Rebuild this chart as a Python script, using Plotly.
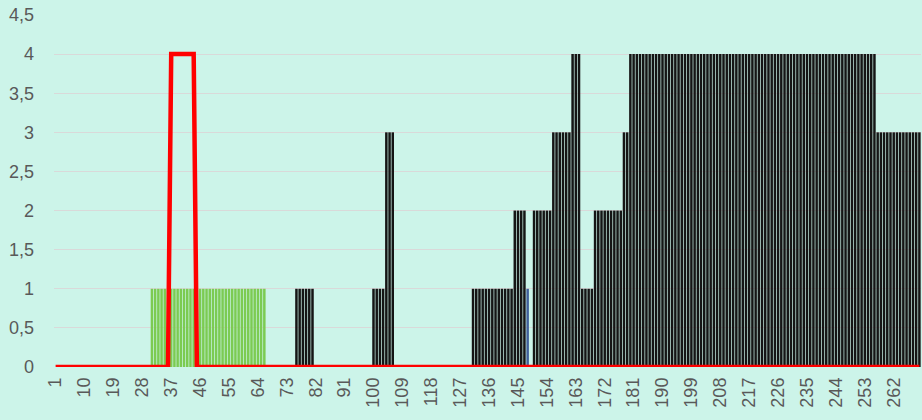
import plotly.graph_objects as go

# Categories 1..270
categories = list(range(1, 271))

# Black bar series (one value per category, rows of 10)
black_values = [
    0,0,0,0,0,0,0,0,0,0,  0,0,0,0,0,0,0,0,0,0,  0,0,0,0,0,0,0,0,0,0,
    0,0,0,0,0,0,0,0,0,0,  0,0,0,0,0,0,0,0,0,0,  0,0,0,0,0,0,0,0,0,0,
    0,0,0,0,0,0,0,0,0,0,  0,0,0,0,0,1,1,1,1,1,  1,0,0,0,0,0,0,0,0,0,
    0,0,0,0,0,0,0,0,0,1,  1,1,1,3,3,3,0,0,0,0,  0,0,0,0,0,0,0,0,0,0,
    0,0,0,0,0,0,0,0,0,0,  1,1,1,1,1,1,1,1,1,1,  1,1,1,2,2,2,2,0,0,2,
    2,2,2,2,2,3,3,3,3,3,  3,4,4,4,1,1,1,1,2,2,  2,2,2,2,2,2,2,3,3,4,
    4,4,4,4,4,4,4,4,4,4,  4,4,4,4,4,4,4,4,4,4,  4,4,4,4,4,4,4,4,4,4,
    4,4,4,4,4,4,4,4,4,4,  4,4,4,4,4,4,4,4,4,4,  4,4,4,4,4,4,4,4,4,4,
    4,4,4,4,4,4,4,4,4,4,  4,4,4,4,4,4,3,3,3,3,  3,3,3,3,3,3,3,3,3,3,
]

# Green bar series
green_values = [
    0,0,0,0,0,0,0,0,0,0,  0,0,0,0,0,0,0,0,0,0,  0,0,0,0,0,0,0,0,0,0,
    1,1,1,1,1,1,1,1,1,1,  1,1,1,1,1,1,1,1,1,1,  1,1,1,1,1,1,1,1,1,1,
    1,1,1,1,1,1,0,0,0,0,  0,0,0,0,0,0,0,0,0,0,  0,0,0,0,0,0,0,0,0,0,
    0,0,0,0,0,0,0,0,0,0,  0,0,0,0,0,0,0,0,0,0,  0,0,0,0,0,0,0,0,0,0,
    0,0,0,0,0,0,0,0,0,0,  0,0,0,0,0,0,0,0,0,0,  0,0,0,0,0,0,0,0,0,0,
    0,0,0,0,0,0,0,0,0,0,  0,0,0,0,0,0,0,0,0,0,  0,0,0,0,0,0,0,0,0,0,
    0,0,0,0,0,0,0,0,0,0,  0,0,0,0,0,0,0,0,0,0,  0,0,0,0,0,0,0,0,0,0,
    0,0,0,0,0,0,0,0,0,0,  0,0,0,0,0,0,0,0,0,0,  0,0,0,0,0,0,0,0,0,0,
    0,0,0,0,0,0,0,0,0,0,  0,0,0,0,0,0,0,0,0,0,  0,0,0,0,0,0,0,0,0,0,
]

# Blue bar series
blue_values = [
    0,0,0,0,0,0,0,0,0,0,  0,0,0,0,0,0,0,0,0,0,  0,0,0,0,0,0,0,0,0,0,
    0,0,0,0,0,0,0,0,0,0,  0,0,0,0,0,0,0,0,0,0,  0,0,0,0,0,0,0,0,0,0,
    0,0,0,0,0,0,0,0,0,0,  0,0,0,0,0,0,0,0,0,0,  0,0,0,0,0,0,0,0,0,0,
    0,0,0,0,0,0,0,0,0,0,  0,0,0,0,0,0,0,0,0,0,  0,0,0,0,0,0,0,0,0,0,
    0,0,0,0,0,0,0,0,0,0,  0,0,0,0,0,0,0,0,0,0,  0,0,0,0,0,0,0,1,0,0,
    0,0,0,0,0,0,0,0,0,0,  0,0,0,0,0,0,0,0,0,0,  0,0,0,0,0,0,0,0,0,0,
    0,0,0,0,0,0,0,0,0,0,  0,0,0,0,0,0,0,0,0,0,  0,0,0,0,0,0,0,0,0,0,
    0,0,0,0,0,0,0,0,0,0,  0,0,0,0,0,0,0,0,0,0,  0,0,0,0,0,0,0,0,0,0,
    0,0,0,0,0,0,0,0,0,0,  0,0,0,0,0,0,0,0,0,0,  0,0,0,0,0,0,0,0,0,0,
]

# Red line series
red_values = [
    0,0,0,0,0,0,0,0,0,0,  0,0,0,0,0,0,0,0,0,0,  0,0,0,0,0,0,0,0,0,0,
    0,0,0,0,0,0,4,4,4,4,  4,4,4,4,0,0,0,0,0,0,  0,0,0,0,0,0,0,0,0,0,
    0,0,0,0,0,0,0,0,0,0,  0,0,0,0,0,0,0,0,0,0,  0,0,0,0,0,0,0,0,0,0,
    0,0,0,0,0,0,0,0,0,0,  0,0,0,0,0,0,0,0,0,0,  0,0,0,0,0,0,0,0,0,0,
    0,0,0,0,0,0,0,0,0,0,  0,0,0,0,0,0,0,0,0,0,  0,0,0,0,0,0,0,0,0,0,
    0,0,0,0,0,0,0,0,0,0,  0,0,0,0,0,0,0,0,0,0,  0,0,0,0,0,0,0,0,0,0,
    0,0,0,0,0,0,0,0,0,0,  0,0,0,0,0,0,0,0,0,0,  0,0,0,0,0,0,0,0,0,0,
    0,0,0,0,0,0,0,0,0,0,  0,0,0,0,0,0,0,0,0,0,  0,0,0,0,0,0,0,0,0,0,
    0,0,0,0,0,0,0,0,0,0,  0,0,0,0,0,0,0,0,0,0,  0,0,0,0,0,0,0,0,0,0,
]

x_tick_values = list(range(1, 271, 9))
y_tick_values = [0, 0.5, 1, 1.5, 2, 2.5, 3, 3.5, 4, 4.5]

fig = go.Figure()
fig.add_trace(go.Bar(x=categories, y=green_values, marker=dict(color="#7ccb52", line=dict(width=0))))
fig.add_trace(go.Bar(x=categories, y=black_values, marker=dict(color="#151515", line=dict(width=0))))
fig.add_trace(go.Bar(x=categories, y=blue_values, marker=dict(color="#41609a", line=dict(width=0))))
fig.add_trace(go.Scatter(x=categories, y=red_values, mode="lines",
                         line=dict(color="#ff0000", width=4.5)))

fig.update_layout(
    width=922, height=420,
    margin=dict(l=54, r=1, t=15, b=53, autoexpand=False),
    paper_bgcolor="#ccf4e9", plot_bgcolor="#ccf4e9",
    barmode="overlay", bargap=0.22, showlegend=False,
    separators=",.",
    font=dict(family="Liberation Sans", size=18, color="#595959"),
)
fig.update_xaxes(range=[0.5, 270.5], tickmode="array", tickvals=x_tick_values,
                 tickangle=-90, showgrid=False, zeroline=False, showline=False,
                 ticks="", automargin=False, ticklabelstandoff=6,
                 tickfont=dict(size=18, color="#595959"))
fig.update_yaxes(range=[0, 4.5], tickmode="array", tickvals=y_tick_values,
                 showgrid=True, gridcolor="#d9d9d9", gridwidth=1, zeroline=False,
                 showline=False, ticks="", ticklabelstandoff=19, automargin=False,
                 tickfont=dict(size=18, color="#595959"))

fig.write_html(
    "out.html",
    config={"displayModeBar": False},
    post_script="document.body.style.margin='0';document.body.style.padding='0';"
                "document.body.style.background='#ccf4e9';",
)
